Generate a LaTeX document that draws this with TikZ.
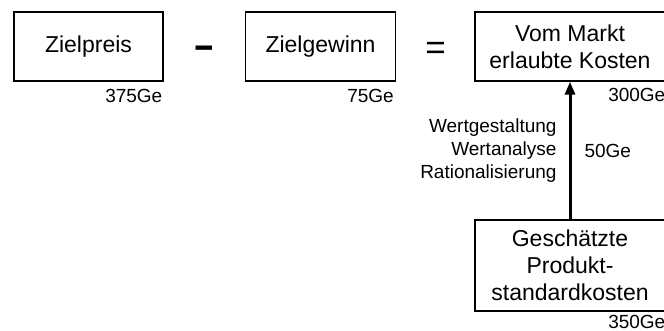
\documentclass[tikz,border=0pt]{standalone}
\usepackage{fontspec}
\setmainfont{Liberation Sans}
\usetikzlibrary{arrows.meta}
\tikzstyle{box} = [rectangle, 
minimum height=34.5pt,
text centered, 
align=center,
draw=black, 
line width=0.7pt,
font=\fontsize{11.5pt}{13.5pt}\selectfont]
\tikzstyle{op} = [inner sep=0pt]
\tikzstyle{val} = [inner sep=0pt, 
anchor=base east, 
font=\fontsize{9.5pt}{11.5pt}\selectfont]
\tikzstyle{note} = [inner sep=0pt, 
font=\fontsize{9.5pt}{11.5pt}\selectfont]
\tikzstyle{arrow} = [line width=1.5pt,-{Triangle[length=6.5pt,width=5pt]}]

\begin{document}
\begin{tikzpicture}[node distance=58pt]
\useasboundingbox (0pt,0pt) rectangle (332pt,-165.5pt);
\node (preis) [box, minimum width=74.5pt] at (44.25pt,-23.25pt) {Zielpreis};
\node (minus) [op, right of=preis, yshift=-2.6pt, font=\fontsize{18pt}{18pt}\selectfont\bfseries] {\scalebox{1.8}[1]{-}};
\node (gewinn) [box, minimum width=75pt, right of=minus, yshift=2.6pt] {Zielgewinn};
\node (gleich) [op, right of=gewinn, xshift=-0.5pt, yshift=-2.3pt, font=\fontsize{17.5pt}{17.5pt}\selectfont] {=};
\node (markt) [box, minimum width=95pt, right of=gleich, xshift=9.25pt, yshift=2.3pt] {Vom Markt\\erlaubte Kosten};
\node (kosten) [box, minimum width=95pt, minimum height=45.5pt, node distance=109.5pt, below of=markt] {Geschätzte\\Produkt-\\standardkosten};

% Werte
\node (wpreis) [val] at ([xshift=-0.5pt,yshift=-10.5pt]preis.south east) {375Ge};
\node (wgewinn) [val] at ([xshift=-1pt,yshift=-10.5pt]gewinn.south east) {75Ge};
\node (wmarkt) [val] at ([yshift=-10pt]markt.south east) {300Ge};
\node (wkosten) [val] at ([yshift=-8.5pt]kosten.south east) {350Ge};

\draw [arrow] (kosten) -- node[note, left=6pt, align=right] {Wertgestaltung\\Wertanalyse\\Rationalisierung} node[note, right=6.5pt] {50Ge} (markt);
\end{tikzpicture}
\end{document}
